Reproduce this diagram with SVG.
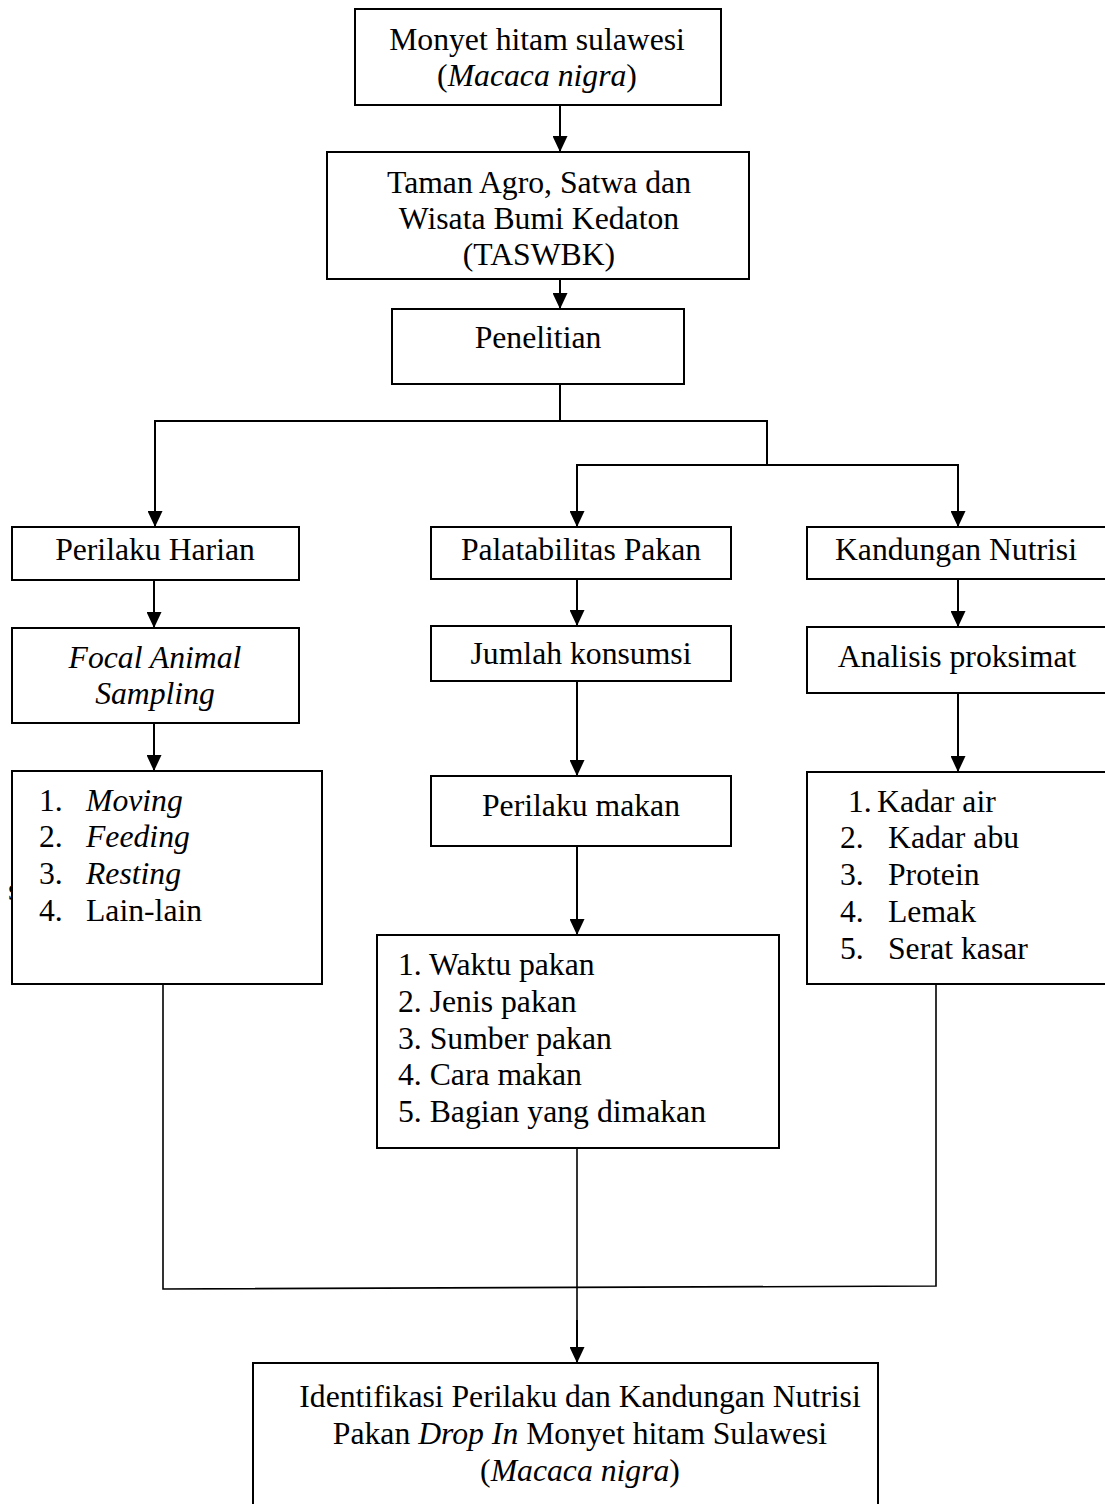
<svg xmlns="http://www.w3.org/2000/svg" width="1105" height="1504" viewBox="0 0 1105 1504">
<style>
text{font-family:"Liberation Serif","Times New Roman",serif;font-size:31.7px;fill:#000}
.c{text-anchor:middle}
.i{font-style:italic}
.box{fill:#fff;stroke:#000;stroke-width:2}
.ln{fill:none;stroke:#000;stroke-width:2}
.ar{fill:none;stroke:#000;stroke-width:2;marker-end:url(#ah)}
</style>
<defs>
<marker id="ah" markerUnits="userSpaceOnUse" markerWidth="16" markerHeight="15" refX="16" refY="7.5" orient="auto" viewBox="0 0 16 15">
<path d="M0,0 L16,7.5 L0,15 z" fill="#000"/>
</marker>
</defs>
<rect width="1105" height="1504" fill="#fff"/>
<g id="connectors">
<line class="ar" x1="560" y1="105" x2="560" y2="152"/>
<line class="ar" x1="560" y1="279" x2="560" y2="309"/>
<line class="ln" x1="560" y1="384" x2="560" y2="421"/>
<line class="ar" x1="155" y1="421" x2="155" y2="527"/>
<line class="ln" x1="154" y1="421" x2="768" y2="421"/>
<line class="ln" x1="767" y1="421" x2="767" y2="465"/>
<line class="ln" x1="576" y1="465" x2="959" y2="465"/>
<line class="ar" x1="577" y1="465" x2="577" y2="527"/>
<line class="ar" x1="958" y1="465" x2="958" y2="527"/>
<line class="ar" x1="154" y1="580" x2="154" y2="628"/>
<line class="ar" x1="154" y1="723" x2="154" y2="771"/>
<line class="ar" x1="577" y1="579" x2="577" y2="626"/>
<line class="ar" x1="577" y1="681" x2="577" y2="776"/>
<line class="ar" x1="577" y1="846" x2="577" y2="935"/>
<line class="ar" x1="958" y1="579" x2="958" y2="627"/>
<line class="ar" x1="958" y1="693" x2="958" y2="772"/>
<polyline class="ln" style="stroke-width:1.6" points="163,984 163,1289 936,1286 936,984"/>
<line class="ln" style="stroke-width:1.6" x1="577" y1="1148" x2="577" y2="1322"/>
<line class="ar" x1="577" y1="1320" x2="577" y2="1363"/>
</g>
<text x="8" y="900">s</text>
<g id="n-monyet">
<rect class="box" x="355" y="9" width="366" height="96"/>
<text class="c" x="537" y="50">Monyet hitam sulawesi</text>
<text class="c" x="537" y="86">(<tspan class="i">Macaca nigra</tspan>)</text>
</g>
<g id="n-taman">
<rect class="box" x="327" y="152" width="422" height="127"/>
<text class="c" x="539" y="193">Taman Agro, Satwa dan</text>
<text class="c" x="539" y="229">Wisata Bumi Kedaton</text>
<text class="c" x="539" y="265">(TASWBK)</text>
</g>
<g id="n-penelitian">
<rect class="box" x="392" y="309" width="292" height="75"/>
<text class="c" x="538" y="348">Penelitian</text>
</g>
<g id="n-perilaku-harian">
<rect class="box" x="12" y="527" width="287" height="53"/>
<text class="c" x="155" y="560">Perilaku Harian</text>
</g>
<g id="n-focal">
<rect class="box" x="12" y="628" width="287" height="95"/>
<text class="c i" x="155" y="668">Focal Animal</text>
<text class="c i" x="155" y="704">Sampling</text>
</g>
<g id="n-list-left">
<rect class="box" x="12" y="771" width="310" height="213"/>
<text x="39" y="811">1.</text><text class="i" x="86" y="811">Moving</text>
<text x="39" y="847">2.</text><text class="i" x="86" y="847">Feeding</text>
<text x="39" y="884">3.</text><text class="i" x="86" y="884">Resting</text>
<text x="39" y="921">4.</text><text x="86" y="921">Lain-lain</text>
</g>
<g id="n-palatabilitas">
<rect class="box" x="431" y="527" width="300" height="52"/>
<text class="c" x="581" y="560">Palatabilitas Pakan</text>
</g>
<g id="n-jumlah">
<rect class="box" x="431" y="626" width="300" height="55"/>
<text class="c" x="581" y="664">Jumlah konsumsi</text>
</g>
<g id="n-perilaku-makan">
<rect class="box" x="431" y="776" width="300" height="70"/>
<text class="c" x="581" y="816">Perilaku makan</text>
</g>
<g id="n-list-mid">
<rect class="box" x="377" y="935" width="402" height="213"/>
<text x="398" y="975">1. Waktu pakan</text>
<text x="398" y="1012">2. Jenis pakan</text>
<text x="398" y="1049">3. Sumber pakan</text>
<text x="398" y="1085">4. Cara makan</text>
<text x="398" y="1122">5. Bagian yang dimakan</text>
</g>
<g id="n-kandungan">
<rect class="box" x="807" y="527" width="320" height="52"/>
<text class="c" x="956" y="560">Kandungan Nutrisi</text>
</g>
<g id="n-analisis">
<rect class="box" x="807" y="627" width="320" height="66"/>
<text class="c" x="957" y="667">Analisis proksimat</text>
</g>
<g id="n-list-right">
<rect class="box" x="807" y="772" width="320" height="212"/>
<text x="848" y="812">1.</text><text x="877" y="812">Kadar air</text>
<text x="840" y="848">2.</text><text x="888" y="848">Kadar abu</text>
<text x="840" y="885">3.</text><text x="888" y="885">Protein</text>
<text x="840" y="922">4.</text><text x="888" y="922">Lemak</text>
<text x="840" y="959">5.</text><text x="888" y="959">Serat kasar</text>
</g>
<g id="n-identifikasi">
<rect class="box" x="253" y="1363" width="625" height="142"/>
<text class="c" x="580" y="1407">Identifikasi Perilaku dan Kandungan Nutrisi</text>
<text class="c" x="580" y="1444">Pakan <tspan class="i">Drop In</tspan> Monyet hitam Sulawesi</text>
<text class="c" x="580" y="1481">(<tspan class="i">Macaca nigra</tspan>)</text>
</g>
</svg>
